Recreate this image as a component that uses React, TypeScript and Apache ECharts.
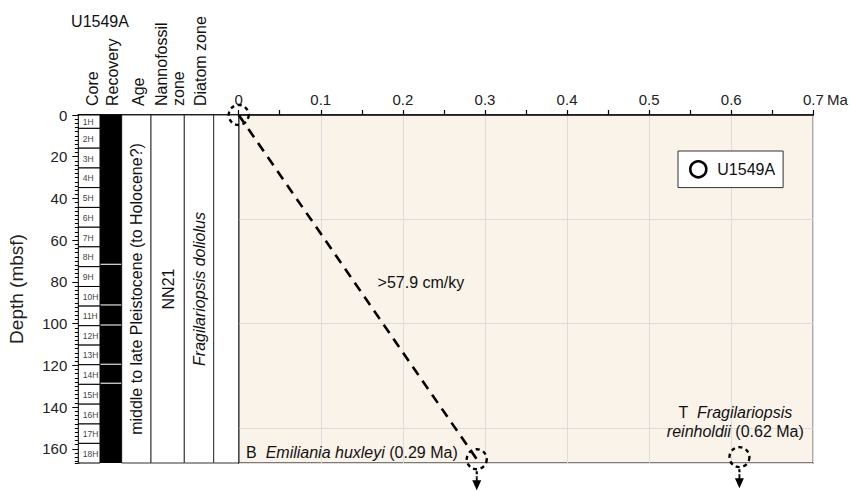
import { useEffect, useRef } from "react";
import * as echarts from "echarts";

const FONT = "'Liberation Sans', Arial, Helvetica, sans-serif";

// ---------------- data ----------------
const holeName = "U1549A";
const depthMax = 166.8;
const ageMax = 0.7;

const coreNames = ["1H", "2H", "3H", "4H", "5H", "6H", "7H", "8H", "9H", "10H", "11H", "12H", "13H", "14H", "15H", "16H", "17H", "18H"];
const coreTops = [0, 6.4, 15.9, 25.4, 34.8, 44.3, 53.8, 63.2, 72.7, 82.2, 91.6, 101.0, 110.3, 119.7, 129.1, 138.6, 148.1, 157.4];
const coreBottoms = [6.4, 15.9, 25.4, 34.8, 44.3, 53.8, 63.2, 72.7, 82.2, 91.6, 101.0, 110.3, 119.7, 129.1, 138.6, 148.1, 157.4, 166.8];

const recoveredTops = [0, 71.8, 91.3, 100.9, 119.7, 128.8];
const recoveredBottoms = [71.3, 90.8, 100.4, 119.2, 128.3, 166.8];

const headerLabels = ["Core", "Recovery", "Age", "Nannofossil\nzone", "Diatom zone"];
const zoneColumns = ["age", "nanno", "diatom", "blank"];
const zoneLabels = ["middle to late Pleistocene (to Holocene?)", "NN21", "Fragilariopsis doliolus", ""];
const zoneItalic = [false, false, true, false];
const zoneTops = [0, 0, 0, 0];
const zoneBottoms = [166.8, 166.8, 166.8, 166.8];

const eventAges = [0, 0.29, 0.61];
const eventDepths = [0, 165, 164];
const eventOpenBelow = [0, 1, 1];

const rateAges = [0, 0.29];
const rateDepths = [0, 165];
const rateLabel = ">57.9 cm/ky";

const datumKinds = ["B", "T"];
const datumTaxa = ["Emiliania huxleyi", "Fragilariopsis\nreinholdii"];
const datumAgesMa = ["0.29", "0.62"];

// ---------------- layout ----------------
const G0_LEFT = 78.3;
const G0_WIDTH = 160.4;
const G_TOP = 115;
const G_BOTTOM = 28;
const G1_LEFT = G0_LEFT + G0_WIDTH;
const G1_RIGHT = 36.7;

const COLS: Record<string, [number, number]> = {
  core: [0, 21.7],
  recovery: [21.7, 43.4],
  age: [43.4, 72.7],
  nanno: [72.7, 106],
  diatom: [106, 135.4],
  blank: [135.4, 160.4],
};
const headerX = [92.5, 112.5, 138, 170, 200];
const headerBaseY = 106;

function App() {
  const ref = useRef<HTMLDivElement>(null);
  useEffect(() => {
    const chart = echarts.init(ref.current!, undefined, { renderer: "svg" });

    const textN = { fontSize: 16, fontFamily: FONT, fill: "#111", lineHeight: 19 };
    const textI = { ...textN, fontStyle: "italic" };

    const datumTexts = datumKinds.map((k, i) => {
      const parts = datumTaxa[i].split("\n");
      if (parts.length === 1) {
        return `{n|${k}  }{i|${parts[0]}}{n| (${datumAgesMa[i]} Ma)}`;
      }
      return `{n|${k}  }{i|${parts[0]}}\n{i|${parts[1]}}{n| (${datumAgesMa[i]} Ma)}`;
    });
    const annotations = [
      { at: [0.222, 80.5], text: `{n|${rateLabel}}`, align: "center" },
      { at: [0.009, 161.6], text: datumTexts[0], align: "left" },
      { at: [0.605, 147.2], text: datumTexts[1], align: "center" },
    ];

    const option: any = {
      animation: false,
      backgroundColor: "#fff",
      textStyle: { fontFamily: FONT },
      legend: {
        data: [{ name: holeName, icon: "circle" }],
        left: 678,
        top: 151,
        orient: "horizontal",
        itemWidth: 16,
        itemHeight: 16,
        backgroundColor: "#fff",
        borderColor: "#333",
        borderWidth: 1,
        borderRadius: 0,
        padding: [9, 8, 9, 11],
        itemStyle: { color: "#fff", borderColor: "#000", borderWidth: 2.6 },
        textStyle: { fontSize: 16, color: "#111", fontFamily: FONT, padding: [0, 0, 0, 6] },
        selectedMode: false,
      },
      grid: [
        { left: G0_LEFT, width: G0_WIDTH, top: G_TOP, bottom: G_BOTTOM, containLabel: false },
        {
          left: G1_LEFT, right: G1_RIGHT, top: G_TOP, bottom: G_BOTTOM, containLabel: false,
          show: true, backgroundColor: "#FAF3E9", borderColor: "#000", borderWidth: 1.2,
        },
      ],
      xAxis: [
        {
          gridIndex: 0, type: "value", position: "top", min: 0, max: G0_WIDTH,
          axisLine: { show: true, lineStyle: { color: "#000", width: 1.5 } },
          axisTick: { show: false }, axisLabel: { show: false }, splitLine: { show: false },
        },
        {
          gridIndex: 0, type: "value", position: "bottom", min: 0, max: G0_WIDTH,
          axisLine: { show: true, lineStyle: { color: "#000", width: 1.5 } },
          axisTick: { show: false }, axisLabel: { show: false }, splitLine: { show: false },
        },
        {
          gridIndex: 1, type: "value", position: "top", min: 0, max: ageMax, interval: 0.1,
          axisLine: { show: true, lineStyle: { color: "#000", width: 1.5 } },
          axisTick: { show: true, length: 5, lineStyle: { color: "#000", width: 1.2 } },
          minorTick: { show: true, splitNumber: 2, length: 5, lineStyle: { color: "#000", width: 1.2 } },
          axisLabel: { fontSize: 15, color: "#222", margin: 8, fontFamily: FONT },
          splitLine: { show: true, lineStyle: { color: "#dcdcdc", width: 1 } },
        },
      ],
      yAxis: [
        {
          gridIndex: 0, type: "value", inverse: true, position: "left", min: 0, max: depthMax, interval: 20,
          name: "Depth (mbsf)", nameLocation: "middle", nameGap: 52,
          nameTextStyle: { fontSize: 19, color: "#222", fontFamily: FONT },
          axisLine: { show: true, lineStyle: { color: "#000", width: 1.5 } },
          axisTick: { show: true, length: 6, lineStyle: { color: "#000", width: 1 } },
          axisLabel: { fontSize: 15, color: "#222", margin: 11, fontFamily: FONT, showMaxLabel: false },
          splitLine: { show: false },
        },
        {
          gridIndex: 0, type: "value", inverse: true, position: "left", min: 0, max: depthMax, interval: 2,
          axisLine: { show: false },
          axisTick: { show: true, length: 3.5, lineStyle: { color: "#000", width: 1 } },
          axisLabel: { show: false },
          splitLine: { show: false },
        },
        {
          gridIndex: 1, type: "value", inverse: true, min: 0, max: depthMax, interval: 50,
          axisLine: { show: true, lineStyle: { color: "#000", width: 1.2 } },
          axisTick: { show: false }, axisLabel: { show: false },
          splitLine: { show: true, lineStyle: { color: "#dcdcdc", width: 1 } },
        },
      ],
      graphic: [
        {
          type: "text", x: 100, y: 21,
          style: { text: holeName, font: `16px ${FONT}`, fill: "#111", align: "center", verticalAlign: "middle" },
        },
        ...headerLabels.map((h, i) => ({
          type: "text", x: headerX[i], y: headerBaseY, rotation: Math.PI / 2,
          style: { text: h, font: `16px ${FONT}`, fill: "#111", align: "left", verticalAlign: "middle", lineHeight: 17 },
        })),
        {
          type: "text", x: 827, y: 107,
          style: { text: "Ma", font: `15px ${FONT}`, fill: "#222", align: "left", verticalAlign: "bottom" },
        },
      ],
      series: [
        // column frames + zone labels
        {
          type: "custom", name: "zones", xAxisIndex: 0, yAxisIndex: 0, clip: false, silent: true,
          data: zoneColumns.map((c, i) => [zoneTops[i], zoneBottoms[i]]),
          renderItem: (params: any, api: any) => {
            const i = params.dataIndex;
            const col = COLS[zoneColumns[i]];
            const a = api.coord([col[0], api.value(0)]);
            const b = api.coord([col[1], api.value(1)]);
            const children: any[] = [
              { type: "rect", shape: { x: a[0], y: a[1], width: b[0] - a[0], height: b[1] - a[1] },
                style: { fill: "#fff", stroke: "#333", lineWidth: 1 } },
            ];
            if (zoneLabels[i]) {
              children.push({
                type: "text", x: (a[0] + b[0]) / 2 + 0.5, y: (a[1] + b[1]) / 2, rotation: Math.PI / 2,
                style: {
                  text: zoneLabels[i],
                  font: `${zoneItalic[i] ? "italic " : ""}16px ${FONT}`,
                  fill: "#111", align: "center", verticalAlign: "middle",
                },
              });
            }
            return { type: "group", children };
          },
        },
        // recovery
        {
          type: "custom", name: "recovery", xAxisIndex: 0, yAxisIndex: 0, clip: false, silent: true,
          data: recoveredTops.map((t, i) => [t, recoveredBottoms[i]]),
          renderItem: (params: any, api: any) => {
            const col = COLS.recovery;
            const a = api.coord([col[0], api.value(0)]);
            const b = api.coord([col[1], api.value(1)]);
            return { type: "rect", shape: { x: a[0], y: a[1], width: b[0] - a[0], height: b[1] - a[1] }, style: { fill: "#000" } };
          },
        },
        // cores
        {
          type: "custom", name: "cores", xAxisIndex: 0, yAxisIndex: 0, clip: false, silent: true,
          data: coreTops.map((t, i) => [t, coreBottoms[i]]),
          renderItem: (params: any, api: any) => {
            const col = COLS.core;
            const a = api.coord([col[0], api.value(0)]);
            const b = api.coord([col[1], api.value(1)]);
            return {
              type: "group",
              children: [
                { type: "rect", shape: { x: a[0], y: a[1], width: b[0] - a[0], height: b[1] - a[1] },
                  style: { fill: "#fff", stroke: "#000", lineWidth: 1 } },
                { type: "text", x: a[0] + 4.5, y: (a[1] + b[1]) / 2 + 0.5,
                  style: { text: coreNames[params.dataIndex], font: `8.5px ${FONT}`, fill: "#444", align: "left", verticalAlign: "middle" } },
              ],
            };
          },
        },
        // sedimentation rate line
        {
          type: "line", name: "rate", xAxisIndex: 2, yAxisIndex: 2, silent: true,
          data: rateAges.map((a, i) => [a, rateDepths[i]]),
          symbol: "none",
          lineStyle: { color: "#000", width: 2.6, type: [10, 7] },
        },
        // datum events
        {
          type: "custom", name: holeName, xAxisIndex: 2, yAxisIndex: 2, clip: false,
          itemStyle: { color: "#fff", borderColor: "#000", borderWidth: 2.6 },
          data: eventAges.map((a, i) => [a, eventDepths[i], eventOpenBelow[i]]),
          renderItem: (params: any, api: any) => {
            const p = api.coord([api.value(0), api.value(1)]);
            const open = api.value(2);
            const r = 10;
            const children: any[] = [
              { type: "circle", shape: { cx: p[0], cy: p[1], r },
                style: { fill: "none", stroke: "#000", lineWidth: 2.4, lineDash: [4, 3.6] } },
            ];
            if (open) {
              const tip = p[1] + 31;
              children.push({ type: "line", shape: { x1: p[0], y1: p[1] + r + 2, x2: p[0], y2: p[1] + r + 8 },
                style: { stroke: "#000", lineWidth: 2.2, lineDash: [3, 2] } });
              children.push({ type: "line", shape: { x1: p[0], y1: p[1] + r + 8, x2: p[0], y2: tip - 5 },
                style: { stroke: "#000", lineWidth: 1.8 } });
              children.push({ type: "polygon", shape: { points: [[p[0] - 4.5, tip - 10], [p[0] + 4.5, tip - 10], [p[0], tip]] },
                style: { fill: "#000" } });
            }
            return { type: "group", children };
          },
        },
        // annotations
        {
          type: "custom", name: "notes", xAxisIndex: 2, yAxisIndex: 2, clip: false, silent: true,
          data: annotations.map((a) => a.at),
          renderItem: (params: any, api: any) => {
            const ann = annotations[params.dataIndex];
            const p = api.coord([api.value(0), api.value(1)]);
            return {
              type: "text", x: p[0], y: p[1],
              style: {
                text: ann.text,
                rich: { n: textN, i: textI },
                font: `16px ${FONT}`,
                fill: "#111",
                align: ann.align,
                verticalAlign: "middle",
              },
            };
          },
        },
      ],
    };

    chart.setOption(option);
    return () => chart.dispose();
  }, []);

  return (
    <div
      ref={ref}
      style={{ position: "fixed", left: 0, top: 0, width: 850, height: 491, background: "#fff" }}
    />
  );
}

export default App;
